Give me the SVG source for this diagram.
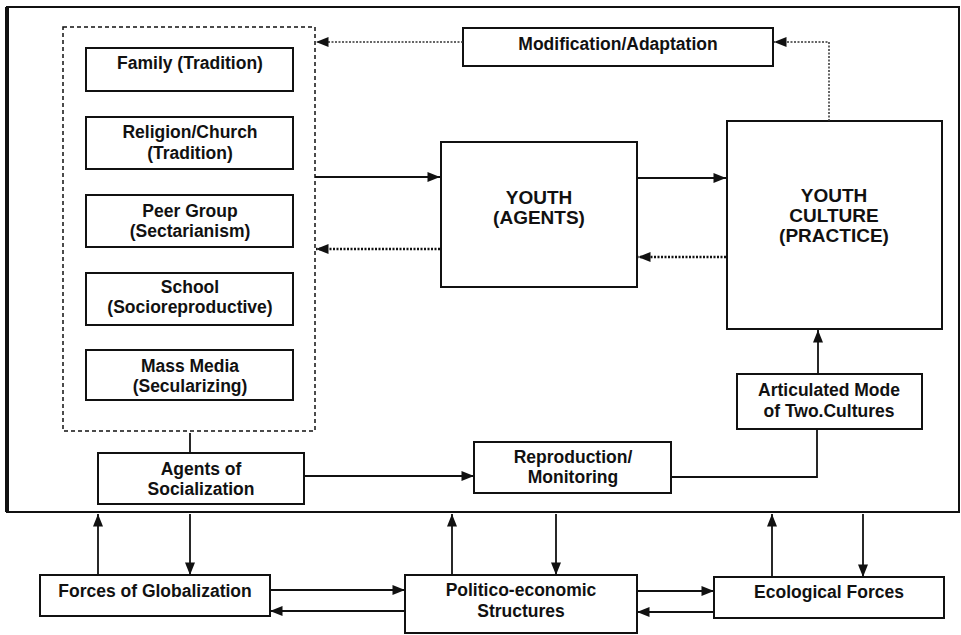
<svg xmlns="http://www.w3.org/2000/svg" width="961" height="635" viewBox="0 0 961 635">
<defs>
<marker id="ah" viewBox="0 0 10 8" refX="10" refY="4" markerWidth="13" markerHeight="10" markerUnits="userSpaceOnUse" orient="auto"><path d="M0,0 L10,4 L0,8 z" fill="#111"/></marker>
<style>
.box{fill:#fff;stroke:#111;stroke-width:2}
.t{font-family:"Liberation Sans",Arial,sans-serif;font-weight:bold;font-size:17.5px;fill:#111;text-anchor:middle}
.big{font-size:19px}
.c{fill:none;stroke:#111;stroke-width:1.8}
.d{fill:none;stroke:#111;stroke-width:2.5;stroke-dasharray:2 1.5}
.dt{fill:none;stroke:#333;stroke-width:1.5;stroke-dasharray:2 1.5}
</style>
</defs>
<rect width="961" height="635" fill="#fff"/>
<g id="frame">
<rect x="7" y="7" width="952" height="505" fill="none" stroke="#111" stroke-width="2"/>
<line x1="7" y1="7" x2="7" y2="512" stroke="#111" stroke-width="4"/>
</g>
<g id="agents-group">
<rect x="63" y="27" width="252" height="404" fill="none" stroke="#111" stroke-width="1.5" stroke-dasharray="4 3"/>
</g>
<g id="family"><rect class="box" x="86" y="48" width="207" height="43"/><text class="t" x="190" y="69">Family (Tradition)</text></g>
<g id="religion"><rect class="box" x="86" y="117" width="207" height="52"/><text class="t" x="190" y="138">Religion/Church</text><text class="t" x="190" y="159">(Tradition)</text></g>
<g id="peer"><rect class="box" x="86" y="195" width="207" height="52"/><text class="t" x="190" y="217">Peer Group</text><text class="t" x="190" y="237">(Sectarianism)</text></g>
<g id="school"><rect class="box" x="86" y="273" width="207" height="52"/><text class="t" x="190" y="293">School</text><text class="t" x="190" y="313">(Socioreproductive)</text></g>
<g id="massmedia"><rect class="box" x="86" y="350" width="207" height="50"/><text class="t" x="190" y="372">Mass Media</text><text class="t" x="190" y="392">(Secularizing)</text></g>
<g id="agents"><rect class="box" x="98" y="453" width="206" height="51"/><text class="t" x="201" y="475">Agents of</text><text class="t" x="201" y="495">Socialization</text></g>
<g id="modification"><rect class="box" x="463" y="28" width="310" height="38"/><text class="t" x="618" y="50">Modification/Adaptation</text></g>
<g id="youth"><rect class="box" x="441" y="142" width="196" height="145"/><text class="t big" x="539" y="204">YOUTH</text><text class="t big" x="539" y="224">(AGENTS)</text></g>
<g id="youthculture"><rect class="box" x="727" y="121" width="215" height="208"/><text class="t big" x="834" y="202">YOUTH</text><text class="t big" x="834" y="222">CULTURE</text><text class="t big" x="834" y="242">(PRACTICE)</text></g>
<g id="articulated"><rect class="box" x="737" y="374" width="185" height="55"/><text class="t" x="829" y="396">Articulated Mode</text><text class="t" x="829" y="417">of Two.Cultures</text></g>
<g id="reproduction"><rect class="box" x="474" y="442" width="197" height="51"/><text class="t" x="573" y="463">Reproduction/</text><text class="t" x="573" y="483">Monitoring</text></g>
<g id="globalization"><rect class="box" x="40" y="575" width="230" height="41"/><text class="t" x="155" y="597">Forces of Globalization</text></g>
<g id="politico"><rect class="box" x="405" y="575" width="232" height="58"/><text class="t" x="521" y="596">Politico-economic</text><text class="t" x="521" y="617">Structures</text></g>
<g id="ecological"><rect class="box" x="714" y="577" width="230" height="41"/><text class="t" x="829" y="598">Ecological Forces</text></g>
<g id="connectors">
<line class="c" x1="315" y1="177" x2="440" y2="177" marker-end="url(#ah)"/>
<line class="c" x1="637" y1="178" x2="726" y2="178" marker-end="url(#ah)"/>
<line class="d" x1="726" y1="257" x2="638" y2="257" marker-end="url(#ah)"/>
<line class="d" x1="440" y1="249" x2="316" y2="249" marker-end="url(#ah)"/>
<line class="dt" x1="463" y1="42" x2="316" y2="42" marker-end="url(#ah)"/>
<polyline class="dt" points="829,121 829,42 774,42" marker-end="url(#ah)"/>
<line class="c" x1="190" y1="433" x2="190" y2="453"/>
<line class="c" x1="304" y1="476" x2="474" y2="476" marker-end="url(#ah)"/>
<polyline class="c" points="671,477 817,477 817,429"/>
<line class="c" x1="818" y1="374" x2="818" y2="330" marker-end="url(#ah)"/>
<line class="c" x1="98" y1="575" x2="98" y2="514" marker-end="url(#ah)"/>
<line class="c" x1="190" y1="514" x2="190" y2="575" marker-end="url(#ah)"/>
<line class="c" x1="452" y1="575" x2="452" y2="514" marker-end="url(#ah)"/>
<line class="c" x1="556" y1="514" x2="556" y2="575" marker-end="url(#ah)"/>
<line class="c" x1="772" y1="577" x2="772" y2="514" marker-end="url(#ah)"/>
<line class="c" x1="863" y1="514" x2="863" y2="577" marker-end="url(#ah)"/>
<line class="c" x1="270" y1="590" x2="405" y2="590" marker-end="url(#ah)"/>
<line class="c" x1="405" y1="611" x2="270" y2="611" marker-end="url(#ah)"/>
<line class="c" x1="637" y1="591" x2="714" y2="591" marker-end="url(#ah)"/>
<line class="c" x1="714" y1="612" x2="637" y2="612" marker-end="url(#ah)"/>
</g>
</svg>
